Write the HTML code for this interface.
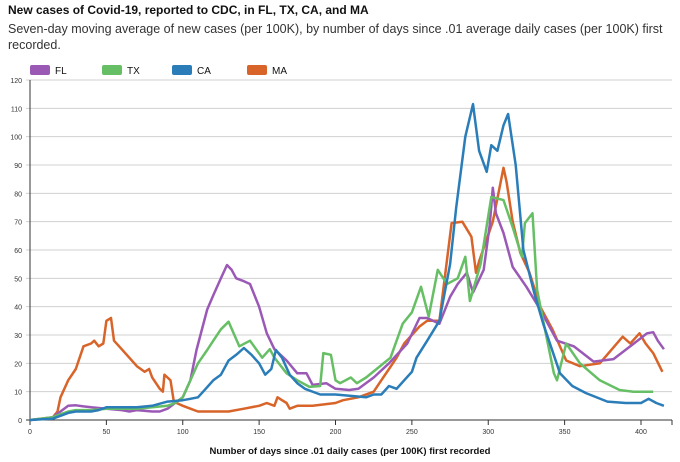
<!DOCTYPE html>
<html><head><meta charset="utf-8"><style>
body{margin:0;background:#fff;width:680px;height:462px;overflow:hidden;font-family:"Liberation Sans",sans-serif;}
.t{position:absolute;left:8px;top:3px;font-size:12px;font-weight:bold;color:#111;}
.s{position:absolute;left:8px;top:21px;width:670px;font-size:12.5px;line-height:16px;color:#333;}
svg{position:absolute;left:0;top:0;}
</style></head><body>
<div class="t">New cases of Covid-19, reported to CDC, in FL, TX, CA, and MA</div>
<div class="s">Seven-day moving average of new cases (per 100K), by number of days since .01 average daily cases (per 100K) first recorded.</div>
<svg id="c" width="680" height="462"></svg>
<script>
const xTicks=[0,50,100,150,200,250,300,350,400];
const yTicks=[0,10,20,30,40,50,60,70,80,90,100,110,120];
const seriesNames=["FL","TX","CA","MA"];
const flDays=[0,10,15,20,25,30,35,40,50,60,65,70,80,85,90,95,100,105,109,116,120,125,129,132,135,140,144,150,155,160,168,175,181,185,194,200,209,215,225,235,247,255,260,268,275,280,286,290,297,301,303,305,310,316,325,334,345,356,369,382,393,404,408,411,415];
const flVals=[0,0.5,1,3,5,5.2,4.8,4.5,4,3.5,3,3.5,3,3,4,6,8,14,24.7,39,44,50,54.7,53,50,49,48,40,30.6,25,21,16.5,16.5,12.4,13,11,10.6,11,15,20,27,36,36,34,43.5,48,52,45,53,69,82,73,66,54,47,39,28,26,20.6,21.5,26,30.6,31,28,25];
const txDays=[0,15,20,25,30,40,50,60,70,80,90,95,100,105,110,116,120,125,130,137,144,152,157,160,168,175,183,190,192,197,200,203,210,214,220,236,244,250,256,261,267,273,280,285,288,295,302,310,316,322,324,329,332,336,343,345,351,360,373,386,395,408];
const txVals=[0,1,2,3,3.5,3.5,4,4,4,4.5,5,6,8,14,20,24.7,28,32,34.7,26,28,22,25,22,16.5,14,11.7,12,23.6,23,14,13,15,13,15,22,34,38,47,36.5,53,48,50,57.6,42,55,78.7,77.6,68,57.6,69.5,73,46,35,16.5,14,27,20,14,10.6,10,10];
const caDays=[0,15,20,25,30,40,45,50,60,70,80,90,100,105,110,115,120,125,130,135,140,145,150,154,158,161,165,170,175,180,190,200,210,220,225,230,235,240,245,250,253,260,268,275,279,285,290,294,299,302,306,310,313,318,323,330,336,347,355,364,378,390,400,405,410,415];
const caVals=[0,0.5,1.5,2.5,3,3,3.5,4.5,4.5,4.5,5,6.5,7,7.5,8,11,14,16,21,23,25.4,23,20,16,18,24.7,22,16,13,11,9,9,8.5,8,9,9,12,11,14,17,22,28,35,55,75,100,111.5,95,87.6,97,95,104,108,90,60,45,34,16.5,12,9.5,6.5,6,6,7.5,6,5];
const maDays=[0,15,18,20,25,30,35,40,42,45,48,50,53,55,60,65,70,75,78,80,85,87,88,90,92,94,96,100,105,110,120,130,140,150,155,160,162,165,168,170,175,185,200,205,215,225,230,235,240,245,250,255,260,268,276,283,289,292,294,303,310,312,316,321,327,334,342,351,360,373,388,393,399,403,408,414];
const maVals=[0,1,3,8,14,18,26,27,28,26,27,35,36,28,25,22,19,17,18,15,11,10,16,15,14,7,6,5,4,3,3,3,4,5,6,5,8,7,6,4,5,5,6,7,8,10,14,18,22,27,30,33,35,35,69.5,70,64.7,52,56,70,89,84,70,59,52,40,32,21,19,20,29.4,27,30.6,27,23.6,17];
const colors=["#9b59b6","#66bf64","#2a7db8","#d8642a"];
const X=d=>30+d*1.5275, Y=v=>420-v*2.8333;
const svg=document.getElementById('c'),NS="http://www.w3.org/2000/svg";
function mk(t,a,p){const e=document.createElementNS(NS,t);for(const k in a)e.setAttribute(k,a[k]);(p||svg).appendChild(e);return e;}
yTicks.forEach(v=>{
 const g=mk('line',{x1:26,x2:672,y1:Y(v),y2:Y(v),stroke:v===0?'#333':'#d0d0d0','stroke-width':1});
 
 
 const t=mk('text',{x:22,y:Y(v)+3,'font-size':7,'text-anchor':'end',fill:'#333','font-family':'Liberation Sans'});
 t.textContent=v;
 
 
});
xTicks.forEach(v=>{
 const l=mk('line',{x1:X(v),x2:X(v),y1:420,y2:425,stroke:'#333'});
 
 
 const t=mk('text',{x:X(v),y:434,'font-size':7,'text-anchor':'middle',fill:'#333','font-family':'Liberation Sans'});
 t.textContent=v;
 
 
});
const ax=mk('line',{x1:30,x2:30,y1:80,y2:420,stroke:'#333'});


const ax2=mk('line',{x1:672,x2:672,y1:420,y2:425,stroke:'#333'});


const xt=mk('text',{x:350,y:454,'font-size':9.5,'font-weight':'bold','text-anchor':'middle',fill:'#111','font-family':'Liberation Sans'});
xt.textContent='Number of days since .01 daily cases (per 100K) first recorded';


const data=[[flDays,flVals],[txDays,txVals],[caDays,caVals],[maDays,maVals]];
[3,0,1,2].forEach(i=>{
 const [d,v]=data[i];
 const p=mk('path',{d:d.map((x,j)=>(j?'L':'M')+X(x).toFixed(1)+' '+Y(v[j]).toFixed(1)).join(''),fill:'none',stroke:colors[i],'stroke-width':2.5,'stroke-linejoin':'round'});
 
 
});
const lx=[30,102,172,247];
seriesNames.forEach((n,i)=>{
 const r=mk('rect',{x:lx[i],y:65,width:20,height:10,rx:2,fill:colors[i]});
 
 
 const t=mk('text',{x:lx[i]+25,y:74,'font-size':10,fill:'#111','font-family':'Liberation Sans'});
 t.textContent=n;
 
 
});
</script>
</body></html>
